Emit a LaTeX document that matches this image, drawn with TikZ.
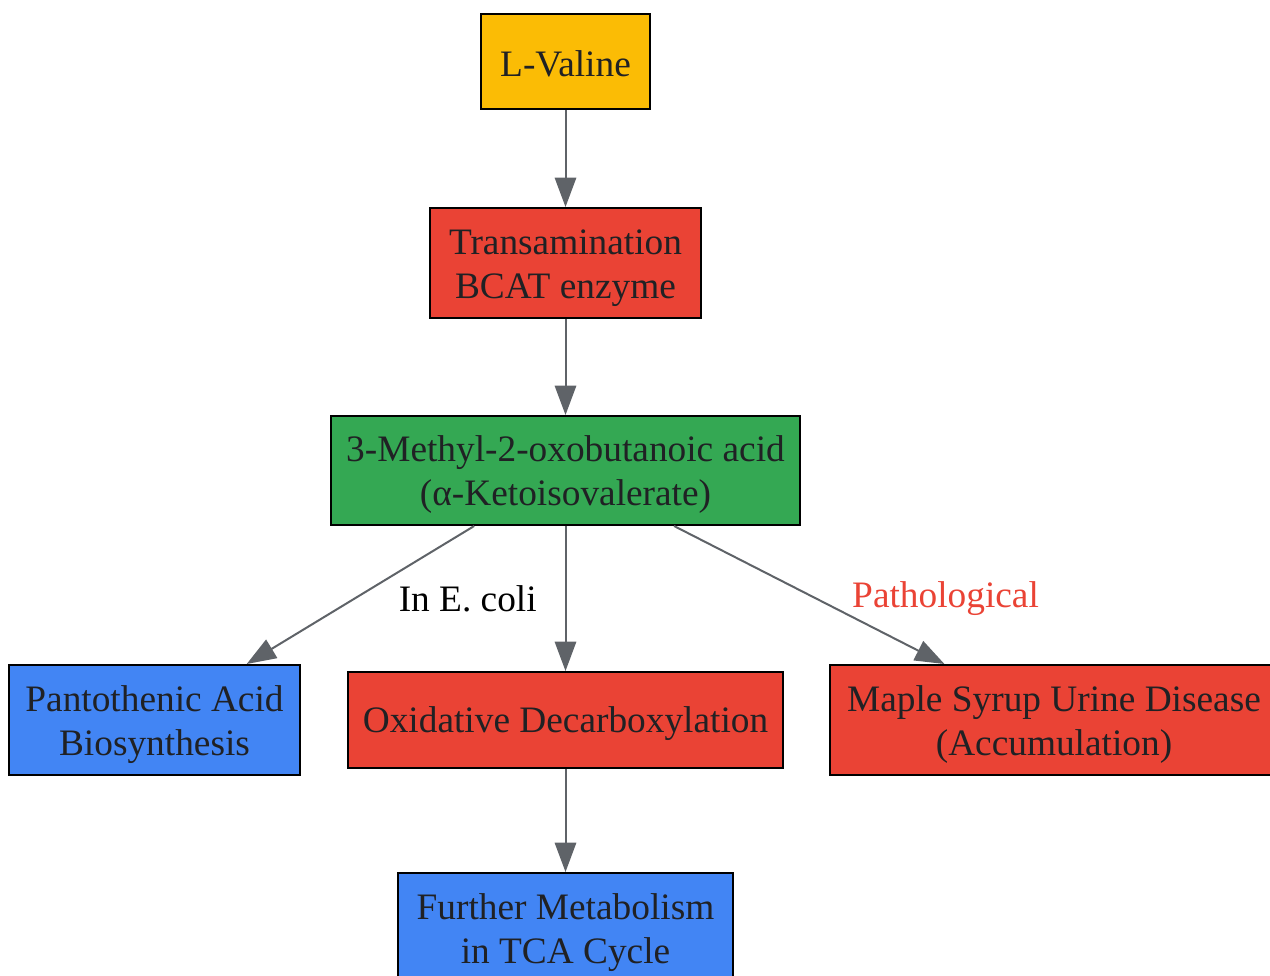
\documentclass[tikz,border=0pt]{standalone}
\usepackage{fontspec}
\setmainfont{Liberation Serif}
\usetikzlibrary{positioning,arrows.meta}
\definecolor{vyellow}{HTML}{FBBC05}
\definecolor{vred}{HTML}{EA4335}
\definecolor{vgreen}{HTML}{34A853}
\definecolor{vblue}{HTML}{4285F4}
\definecolor{vgray}{HTML}{5F6368}
\definecolor{vtext}{HTML}{202124}
\newcommand{\tstrut}{\rule{0pt}{26pt}}

\begin{document}
\begin{tikzpicture}[x=0.75pt, y=-0.75pt, node distance={74pt},
    main/.style = {draw, line width=1.5pt, rectangle, align=center, inner sep=0pt, text=vtext, font=\fontsize{28}{33}\selectfont,
        execute at begin node={\rule{0pt}{25pt}}, execute at end node={\rule[-3pt]{0pt}{3pt}}},
    lbl/.style = {font=\fontsize{28}{33}\selectfont, inner sep=0pt, yshift=-2.5pt},
    edge/.style = {draw=vgray, line width=1.5pt, -{Triangle[length=22pt,width=16pt]}}]
        \useasboundingbox (0,0) rectangle (1270,975);

        \node[main, fill=vyellow, minimum width=126.75pt, minimum height=71.25pt] (1) at (565.5,61.5) {L-Valine};
        \node[main, fill=vred, minimum width=203.25pt, minimum height=82.5pt] (2) [below=72.75pt of 1] {\tstrut Transamination\\BCAT enzyme};
        \node[main, fill=vgreen, minimum width=351.75pt, minimum height=81.75pt] (3) [below=72pt of 2] {\tstrut 3-Methyl-2-oxobutanoic acid\\(α-Ketoisovalerate)};
        \node[main, fill=vred, minimum width=326.25pt, minimum height=72pt] (5) [below=108.75pt of 3] {Oxidative Decarboxylation};
        \node[main, fill=vblue, minimum width=218.25pt, minimum height=82.5pt] (4) [left=34.5pt of 5] {\tstrut Pantothenic Acid\\Biosynthesis};
        \node[main, fill=vred, minimum width=336pt, minimum height=82.5pt] (6) [right=33.75pt of 5] {\tstrut Maple Syrup Urine Disease\\(Accumulation)};
        \node[main, fill=vblue, minimum width=251.25pt, minimum height=82.5pt] (7) [below=77.25pt of 5] {\tstrut Further Metabolism\\in TCA Cycle};

        \draw[edge] (1) -- (2);
        \draw[edge] (2) -- (3);
        \draw[edge] (3) -- node[lbl, pos=0.5, right=28pt] (l1) {In E. coli} (4);
        \draw[edge] (3) -- (5);
        \draw[edge] (3) -- node[lbl, pos=0.5, right=31.5pt, text=vred] (l2) {Pathological} (6);
        \draw[edge] (5) -- (7);

    \end{tikzpicture}
\end{document}
